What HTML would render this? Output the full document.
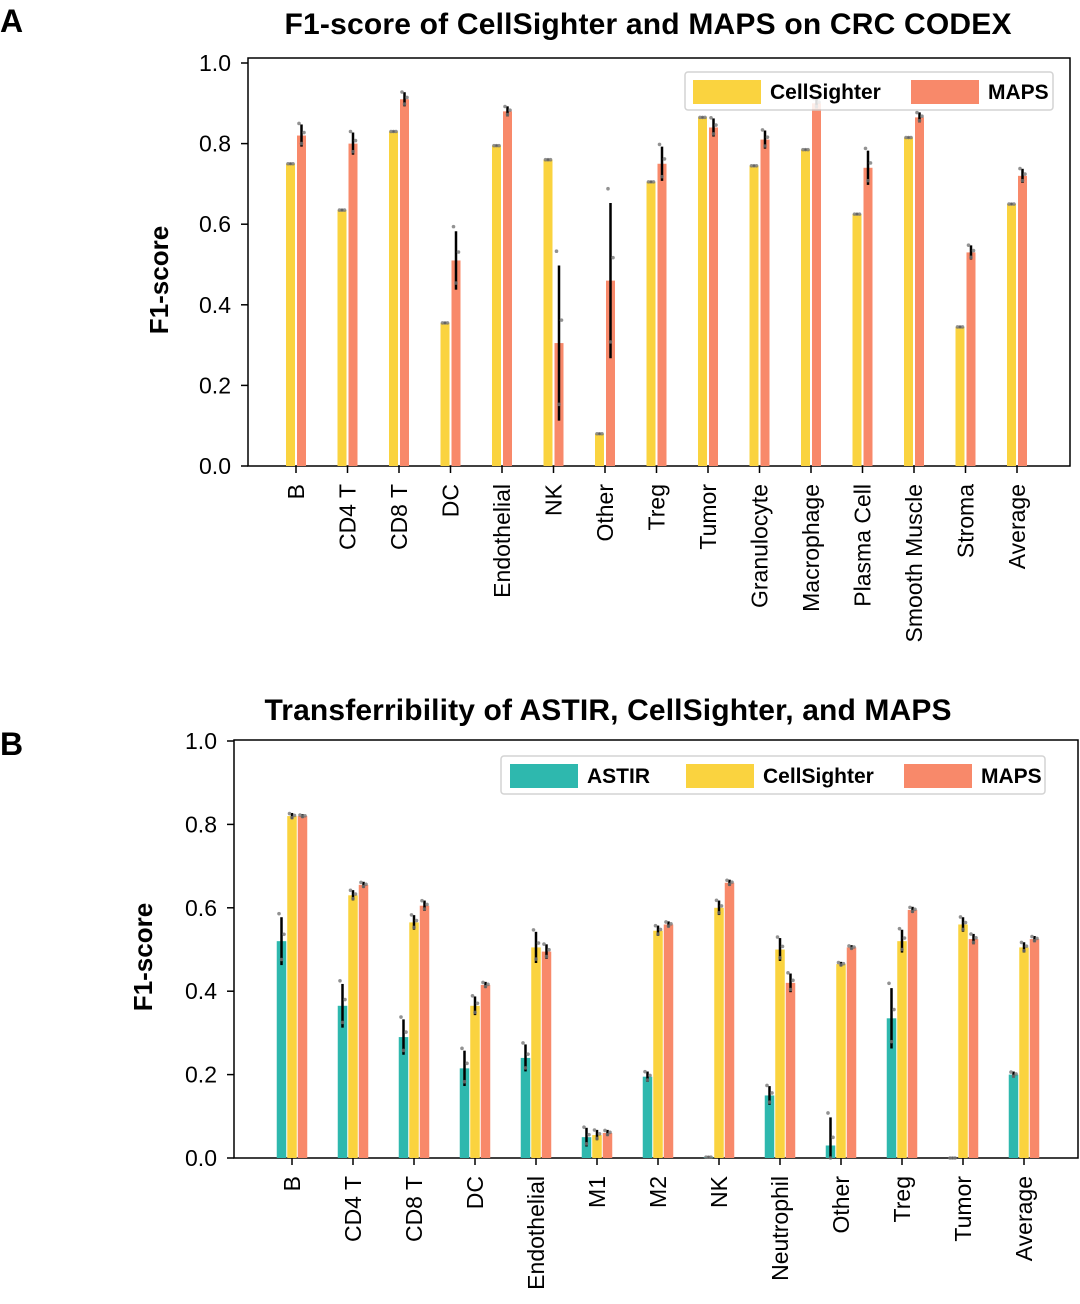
<!DOCTYPE html>
<html><head><meta charset="utf-8"><style>
body{margin:0;background:#fff;}
svg text{font-family:"Liberation Sans",Arial,sans-serif;}
</style></head><body>
<svg id="s" width="1080" height="1299" xmlns="http://www.w3.org/2000/svg">
<text x="0" y="32" font-size="32" font-weight="bold">A</text>
<text x="0" y="755" font-size="32" font-weight="bold">B</text>
<text x="648" y="34" font-size="30" font-weight="bold" text-anchor="middle" textLength="727">F1-score of CellSighter and MAPS on CRC CODEX</text>
<text x="608" y="720" font-size="30" font-weight="bold" text-anchor="middle" textLength="687">Transferribility of ASTIR, CellSighter, and MAPS</text>
<text transform="translate(168,280) rotate(-90)" font-size="26" font-weight="bold" text-anchor="middle">F1-score</text>
<text transform="translate(152,957) rotate(-90)" font-size="26" font-weight="bold" text-anchor="middle">F1-score</text>
<g id="ga"></g><g id="gb"></g>
</svg>
<script>
const catsA=["B","CD4 T","CD8 T","DC","Endothelial","NK","Other","Treg","Tumor","Granulocyte","Macrophage","Plasma Cell","Smooth Muscle","Stroma","Average"];
const csA=[0.75,0.635,0.83,0.355,0.795,0.76,0.08,0.705,0.865,0.745,0.785,0.625,0.815,0.345,0.65];
const csAErr=[0,0,0,0,0,0,0,0,0,0,0,0,0,0,0];
const mapsA=[0.82,0.80,0.91,0.51,0.88,0.305,0.46,0.75,0.84,0.81,0.90,0.74,0.865,0.53,0.72];
const mapsAErr=[0.025,0.025,0.015,0.07,0.01,0.19,0.19,0.04,0.02,0.02,0.01,0.04,0.01,0.015,0.015];
const catsB=["B","CD4 T","CD8 T","DC","Endothelial","M1","M2","NK","Neutrophil","Other","Treg","Tumor","Average"];
const astirB=[0.52,0.365,0.29,0.215,0.24,0.05,0.195,0.002,0.15,0.03,0.335,0.0,0.20];
const astirBErr=[0.055,0.05,0.04,0.04,0.03,0.02,0.01,0,0.02,0.065,0.07,0,0.005];
const csB=[0.82,0.63,0.565,0.365,0.505,0.055,0.545,0.60,0.50,0.465,0.52,0.56,0.505];
const csBErr=[0.005,0.01,0.015,0.02,0.035,0.01,0.01,0.015,0.025,0.003,0.025,0.015,0.01];
const mapsB=[0.82,0.655,0.605,0.415,0.495,0.06,0.56,0.66,0.42,0.505,0.595,0.525,0.525];
const mapsBErr=[0.002,0.005,0.01,0.005,0.015,0.005,0.005,0.005,0.02,0.003,0.005,0.01,0.005];
const yTicks=["0.0","0.2","0.4","0.6","0.8","1.0"];
const NS="http://www.w3.org/2000/svg";
function mk(p,t,a){const e=document.createElementNS(NS,t);for(const k in a)e.setAttribute(k,a[k]);p.appendChild(e);return e;}
function chart(g,o){
  const y=v=>o.y0-(o.y0-o.y1)*v;
  const x=i=>o.x0+o.step*i;
  const ax=mk(g,'rect',{x:o.L,y:o.T,width:o.R-o.L,height:o.B-o.T,fill:'none',stroke:'#000','stroke-width':1.5});
  
  
  yTicks.forEach(t=>{const v=parseFloat(t);
    const l=mk(g,'line',{x1:o.L-7,x2:o.L,y1:y(v),y2:y(v),stroke:'#000','stroke-width':1.5});
    
    
    const tx=mk(g,'text',{x:o.L-17,y:y(v)+8,'font-size':23,'text-anchor':'end'});tx.textContent=t;
    
    
  });
  o.cats.forEach((c,i)=>{
    const l=mk(g,'line',{x1:x(i),x2:x(i),y1:o.B,y2:o.B+7,stroke:'#000','stroke-width':1.5});
    
    
    const tx=mk(g,'text',{transform:`translate(${x(i)+8},${o.B+18}) rotate(-90)`,'font-size':23,'text-anchor':'end'});tx.textContent=c;
    
    
  });
  o.series.forEach((s,k)=>{
    s.vals.forEach((v,i)=>{
      const cx=x(i)+o.offs[k];
      const r=mk(g,'rect',{x:cx-o.bw/2,y:y(v),width:o.bw,height:Math.max(0,o.y0-y(v)),fill:s.color});
      
      
      const e=s.err[i];
      const el=mk(g,'line',{x1:cx,x2:cx,y1:y(v+e)-1,y2:y(Math.max(0,v-e))+1,stroke:'#000','stroke-width':2.5});
      
      
      [v+e*1.2,v-e*0.8,v+e*0.3].forEach((d,j)=>{
        const p=mk(g,'circle',{cx:cx+(j-1)*2.5,cy:y(Math.max(0,d)),r:1.8,fill:'#777',opacity:0.8});
        
        
      });
    });
  });
  const lg=mk(g,'rect',{x:o.leg.x,y:o.leg.y,width:o.leg.w,height:38,rx:3,fill:'#fff',stroke:'#ccc','stroke-width':1.5,opacity:0.85});
  
  
  o.series.forEach((s,k)=>{
    const lx=o.leg.xs[k];
    const sw=mk(g,'rect',{x:lx,y:o.leg.y+8,width:68,height:24,fill:s.color});
    
    
    const t=mk(g,'text',{x:lx+77,y:o.leg.y+27,'font-size':21,'font-weight':'bold'});t.textContent=s.name;
    
    
  });
}
chart(document.getElementById('ga'),{id:'chart-a',L:248,R:1070,T:58,B:466,y0:466,y1:63,x0:296,step:51.5,bw:9,offs:[-5.5,5.5],cats:catsA,
 series:[{name:'CellSighter',vals:csA,err:csAErr,color:'#FAD33F'},{name:'MAPS',vals:mapsA,err:mapsAErr,color:'#F8896A'}],
 leg:{x:685,y:72,w:368,xs:[693,911]}});
chart(document.getElementById('gb'),{id:'chart-b',L:234,R:1078,T:740,B:1158,y0:1158,y1:741,x0:292,step:61,bw:9.5,offs:[-10.5,0,10.5],cats:catsB,
 series:[{name:'ASTIR',vals:astirB,err:astirBErr,color:'#2EB8AE'},{name:'CellSighter',vals:csB,err:csBErr,color:'#FAD33F'},{name:'MAPS',vals:mapsB,err:mapsBErr,color:'#F8896A'}],
 leg:{x:501,y:756,w:544,xs:[510,686,904]}});
</script>
</body></html>
